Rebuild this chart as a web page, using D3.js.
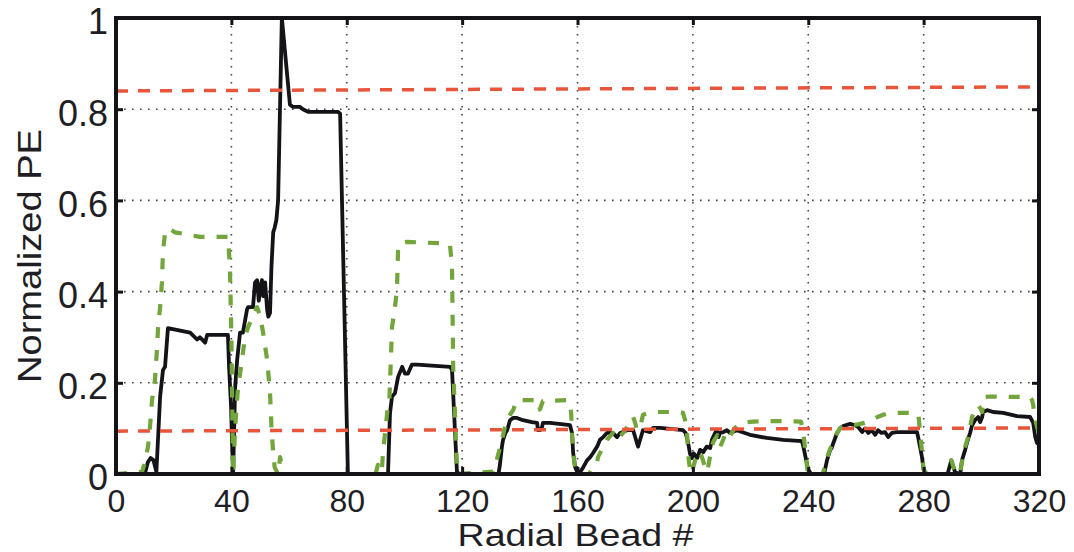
<!DOCTYPE html>
<html>
<head>
<meta charset="utf-8">
<script src="https://cdn.jsdelivr.net/npm/d3@7"></script>
<style>
  body { margin: 0; background: #fff; }
  text { font-family: "Liberation Sans", Arial, Helvetica, sans-serif; fill: #1e1e24; }
</style>
</head>
<body>
<svg id="chart" width="1074" height="552"></svg>
<script>
// Normalized PE per radial bead, solid (black) series
const blackBead = [0, 10, 11, 12, 13, 14, 15.3, 16.3, 17, 18, 25.7, 28.1, 29.1, 30.9, 31.6, 38.8, 39.2, 39.9, 40.2, 40.6,
  41.3, 42, 43, 44, 45.4, 45.8, 47.5, 48.2, 48.9, 49.5, 50, 50.6, 51, 51.7, 52.4, 52.8, 53.4, 53.9, 54.5, 55, 55.6, 56.2,
  57.5, 60.3, 61.4, 63.8, 64.8, 66.6, 77, 77.7, 80.4, 94.3, 95, 95.7, 96.7, 97.8, 99.2, 100.2, 101.2, 102.6, 104.4,
  115.8, 116.5, 118.2, 119, 132.6, 133.1, 133.8, 134.2, 135, 135.6, 136.6, 137.7, 139, 141.1, 144.2, 146, 146.3, 147,
  147.7, 148, 150.5, 157.4, 158.1, 158.5, 159.2, 160, 161, 162, 163.3, 164.4, 165.4, 166.8, 167.8, 168.9, 170.2, 171.3,
  172.3, 173.7, 174.8, 177.2, 179.3, 180.6, 181, 181.7, 182.7, 185.2, 186.2, 188.6, 196.6, 197.5, 198.3, 199, 199.6,
  200.3, 201.5, 202.5, 203.6, 204.8, 206, 206.6, 207.7, 208.3, 208.9, 209.4, 210.6, 211.8, 212.9, 215.2, 217, 219.8,
  225.6, 231.3, 237.8, 238.3, 239.5, 240, 241, 245.5, 246.5, 247.6, 248.1, 248.7, 250, 251, 252.1, 254.5, 256.2, 257.3,
  258.7, 259.7, 260.8, 262, 263.2, 264.2, 265.4, 266.6, 267.7, 269, 270.7, 277.7, 278.1, 279.4, 280, 281, 288.3, 289.6,
  290.9, 292.7, 293.3, 294.4, 295, 296.1, 296.8, 297.8, 298.9, 299.6, 300.3, 300.6, 302, 304.1, 307.6, 312.4, 316.9,
  318, 318.7, 319.3, 320];
const blackPE = [0, 0, 0.025, 0.035, 0.03, 0.005, 0.17, 0.228, 0.235, 0.32, 0.31, 0.295, 0.3, 0.288, 0.305, 0.305, 0.235,
  0.147, 0.075, 0, 0.19, 0.25, 0.31, 0.31, 0.36, 0.366, 0.366, 0.42, 0.425, 0.38, 0.41, 0.425, 0.39, 0.42, 0.36, 0.345,
  0.353, 0.455, 0.53, 0.54, 0.557, 0.6, 1.0, 0.81, 0.805, 0.805, 0.8, 0.794, 0.794, 0.79, 0, 0, 0.134, 0.17, 0.177, 0.213,
  0.235, 0.22, 0.22, 0.24, 0.24, 0.235, 0.228, 0.005, 0, 0, 0.02, 0.06, 0.075, 0.09, 0.096, 0.118, 0.123, 0.123, 0.118,
  0.114, 0.112, 0.096, 0.096, 0.103, 0.112, 0.112, 0.107, 0.09, 0.046, 0.015, 0.003, 0.005, 0.015, 0.03, 0.037, 0.046,
  0.06, 0.075, 0.081, 0.09, 0.09, 0.09, 0.081, 0.09, 0.096, 0.096, 0.068, 0.06, 0.075, 0.096, 0.092, 0.101, 0.101, 0.096,
  0.09, 0.07, 0.045, 0.035, 0.045, 0.035, 0.053, 0.048, 0.06, 0.057, 0.075, 0.09, 0.096, 0.081, 0.09, 0.092, 0.096, 0.09,
  0.096, 0.092, 0.086, 0.079, 0.075, 0.072, 0.06, 0.024, 0.01, 0, 0, 0.03, 0.053, 0.057, 0.068, 0.09, 0.1, 0.105, 0.11,
  0.107, 0.103, 0.092, 0.1, 0.09, 0.096, 0.086, 0.096, 0.09, 0.092, 0.081, 0.09, 0.092, 0.092, 0.081, 0.038, 0.01, 0, 0,
  0.03, 0.004, 0, 0.03, 0.053, 0.068, 0.09, 0.107, 0.118, 0.125, 0.114, 0.125, 0.136, 0.14, 0.136, 0.134, 0.127, 0.125,
  0.112, 0.081, 0.068, 0.065];

// Normalized PE per radial bead, dashed (green) series
const greenBead = [0, 9, 10, 11.1, 11.8, 12.5, 13.5, 14.2, 14.6, 15.3, 15.9, 16.3, 17, 18, 20.5, 25.7, 29.1, 38.8, 39.5,
  40, 40.3, 40.6, 41.3, 42.3, 43.7, 44.7, 45.8, 47.5, 48.9, 50, 51, 52.4, 53.4, 53.9, 54.5, 55, 56.2, 56.9, 57.6, 58, 90,
  90.8, 91.5, 92.2, 92.6, 93.3, 94, 94.8, 95.7, 96.7, 97.4, 97.8, 98.5, 100.9, 112.3, 115.8, 116.5, 116.9, 117.5, 118.2,
  118.6, 130.7, 132, 133.8, 135, 136.6, 137.7, 138.3, 139, 145, 146, 147, 148, 156.7, 157.4, 157.8, 158.1, 158.5, 159.2,
  160, 164, 165.4, 166.8, 167.1, 170.2, 172.3, 173.7, 175.8, 177.2, 178.2, 179.3, 180, 180.6, 181.7, 182.7, 185.9, 189.7,
  194.5, 196.6, 197.3, 198, 198.3, 199, 199.5, 201, 202.5, 204, 205, 206, 207, 208.5, 209.5, 210.5, 211.5, 213, 214.5,
  216, 218, 221, 226, 232, 237.5, 238.3, 239, 239.7, 240.5, 245, 246, 247, 248.2, 249.5, 251, 252.5, 254.5, 256.5, 258,
  259.5, 261, 262.5, 264, 266, 268, 272, 276, 278.2, 278.8, 279.4, 280, 281, 288.3, 289.6, 290.9, 292.5, 293.4, 294.4,
  295.4, 296.1, 296.8, 297.8, 298.9, 299.6, 300.3, 300.6, 301.3, 303, 310, 316.9, 317.6, 318, 318.7, 319.5, 320];
const greenPE = [0, 0.005, 0.024, 0.06, 0.104, 0.162, 0.206, 0.272, 0.323, 0.366, 0.418, 0.49, 0.528, 0.539, 0.53, 0.524,
  0.52, 0.52, 0.455, 0.3, 0.15, 0, 0.1, 0.19, 0.25, 0.3, 0.322, 0.345, 0.366, 0.345, 0.31, 0.25, 0.178, 0.103, 0.046,
  0.015, 0, 0.037, 0.015, 0, 0, 0.02, 0.005, 0.01, 0.05, 0.09, 0.134, 0.165, 0.322, 0.366, 0.403, 0.495, 0.506, 0.509,
  0.506, 0.502, 0.455, 0.235, 0.134, 0.015, 0, 0.005, 0.03, 0.075, 0.107, 0.13, 0.14, 0.151, 0.162, 0.162, 0.14, 0.142,
  0.16, 0.162, 0.151, 0.134, 0.09, 0.046, 0.01, 0, 0, 0.015, 0.026, 0.037, 0.075, 0.09, 0.075, 0.09, 0.103, 0.118, 0.125,
  0.112, 0.096, 0.103, 0.13, 0.136, 0.136, 0.136, 0.134, 0.118, 0.09, 0.046, 0.01, 0, 0.035, 0.05, 0.02, 0.005, 0.04,
  0.07, 0.085, 0.06, 0.075, 0.095, 0.085, 0.1, 0.11, 0.113, 0.115, 0.116, 0.116, 0.115, 0.09, 0.05, 0.01, 0, 0, 0.02,
  0.045, 0.065, 0.085, 0.1, 0.105, 0.11, 0.108, 0.11, 0.112, 0.115, 0.12, 0.125, 0.13, 0.134, 0.134, 0.134, 0.13, 0.09,
  0.05, 0.01, 0, 0, 0.03, 0.004, 0, 0.03, 0.06, 0.081, 0.103, 0.125, 0.14, 0.151, 0.145, 0.136, 0.162, 0.169, 0.17, 0.169,
  0.169, 0.162, 0.151, 0.118, 0.1, 0.09];

// Threshold lines (value at bead 0 and bead 320)
const limitBeads = [0, 320];
const upperLimit = [0.84, 0.849];
const lowerLimit = [0.094, 0.101];

// Axis ticks
const xTicks = [0, 40, 80, 120, 160, 200, 240, 280, 320];
const yTicks = [0, 0.2, 0.4, 0.6, 0.8, 1];
const yTickLabels = ["0", "0.2", "0.4", "0.6", "0.8", "1"];

const svg = d3.select("#chart");
svg.append("rect").attr("width", 1074).attr("height", 552).attr("fill", "#fff");

const plotL = 116, plotR = 1039, plotT = 18, plotB = 474;
const x = d3.scaleLinear().domain([0, 320]).range([plotL, plotR]);
const y = d3.scaleLinear().domain([0, 1]).range([plotB, plotT]);

svg.append("defs").append("clipPath").attr("id", "plot")
  .append("rect").attr("x", plotL).attr("y", plotT - 4).attr("width", plotR - plotL).attr("height", plotB - plotT + 4);

// dotted grid
const grid = svg.append("g").attr("stroke", "#444").attr("stroke-width", 1.6).attr("stroke-dasharray", "1.6,6.4");
grid.selectAll("line.v").data(xTicks.slice(1, -1)).join("line").attr("class", "v")
  .attr("x1", d => x(d)).attr("x2", d => x(d)).attr("y1", plotT).attr("y2", plotB);
grid.selectAll("line.h").data(yTicks.slice(1, -1)).join("line").attr("class", "h")
  .attr("x1", plotL).attr("x2", plotR).attr("y1", d => y(d)).attr("y2", d => y(d));

const plot = svg.append("g").attr("clip-path", "url(#plot)");
const line = d3.line().x(d => x(d[0])).y(d => y(d[1]));

plot.append("path")
  .attr("d", line(d3.zip(blackBead, blackPE)))
  .attr("fill", "none").attr("stroke", "#141418").attr("stroke-width", 3.8)
  .attr("stroke-linejoin", "round");

plot.append("path")
  .attr("d", line(d3.zip(greenBead, greenPE)))
  .attr("fill", "none").attr("stroke", "#72a53c").attr("stroke-width", 4.2)
  .attr("stroke-dasharray", "11,12").attr("stroke-linejoin", "round");

[upperLimit, lowerLimit].forEach(lim => {
  plot.append("path")
    .attr("d", line(d3.zip(limitBeads, lim)))
    .attr("fill", "none").attr("stroke", "#e8553a").attr("stroke-width", 3.5)
    .attr("stroke-dasharray", "12,10");
});

// axes with inward ticks
const tickLen = 7;
const xAxis = svg.append("g").attr("transform", `translate(0,${plotB})`)
  .call(d3.axisBottom(x).tickValues(xTicks).tickSize(-tickLen).tickPadding(15).tickFormat(d3.format("d")));
xAxis.selectAll("text").attr("font-size", 32);
const yAxis = svg.append("g").attr("transform", `translate(${plotL},0)`)
  .call(d3.axisLeft(y).tickValues(yTicks).tickSize(-tickLen).tickPadding(8).tickFormat((d, i) => yTickLabels[i]));
yAxis.selectAll("text").attr("font-size", 36).attr("dy", "0.44em");
svg.append("g").attr("transform", `translate(0,${plotT})`)
  .call(d3.axisTop(x).tickValues(xTicks).tickSize(-tickLen).tickFormat(""));
svg.append("g").attr("transform", `translate(${plotR},0)`)
  .call(d3.axisRight(y).tickValues(yTicks).tickSize(-tickLen).tickFormat(""));
svg.selectAll(".domain").remove();
svg.selectAll(".tick line").attr("stroke", "#141418").attr("stroke-width", 3);
svg.selectAll(".tick text").attr("fill", "#1e1e24").attr("font-family", "'Liberation Sans', Arial, Helvetica, sans-serif");

// frame
svg.append("rect").attr("x", plotL).attr("y", plotT).attr("width", plotR - plotL).attr("height", plotB - plotT)
  .attr("fill", "none").attr("stroke", "#141418").attr("stroke-width", 4);

// titles
svg.append("text").attr("x", (plotL + plotR) / 2 - 2).attr("y", 546)
  .attr("text-anchor", "middle").attr("font-size", 32)
  .attr("textLength", 236).attr("lengthAdjust", "spacingAndGlyphs")
  .text("Radial Bead #");
svg.append("text").attr("transform", "translate(41,256) rotate(-90)")
  .attr("text-anchor", "middle").attr("font-size", 33)
  .attr("textLength", 254).attr("lengthAdjust", "spacingAndGlyphs")
  .text("Normalized PE");
</script>
</body>
</html>
